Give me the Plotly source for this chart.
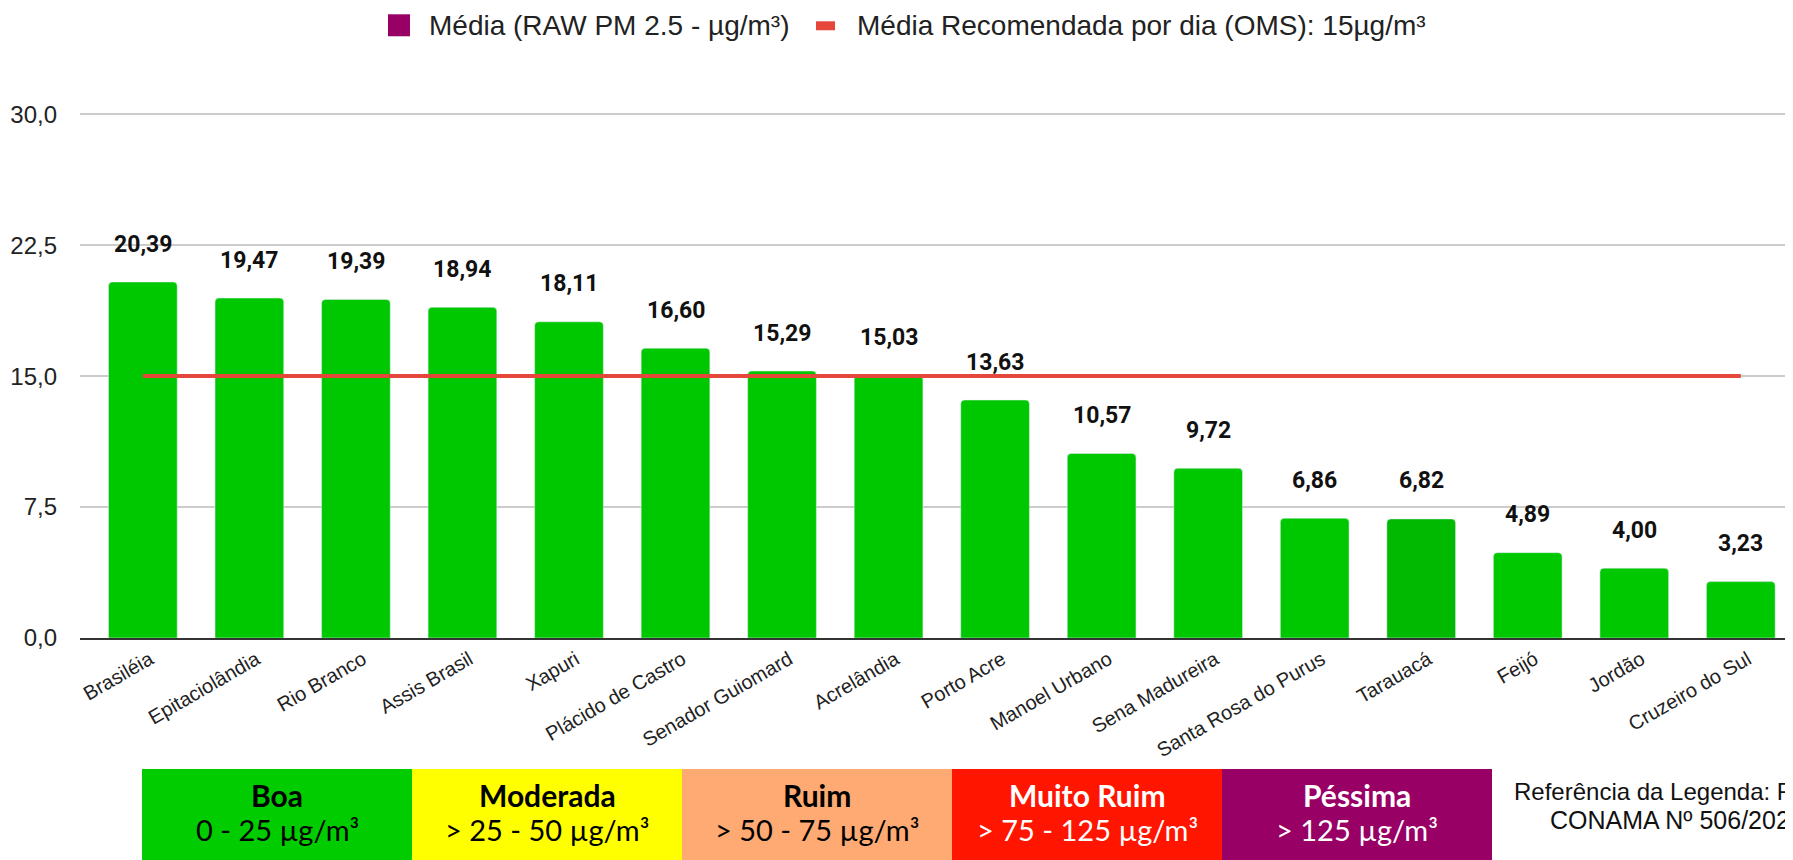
import plotly.graph_objects as go

cities = ["Brasiléia", "Epitaciolândia", "Rio Branco", "Assis Brasil", "Xapuri",
          "Plácido de Castro", "Senador Guiomard", "Acrelândia", "Porto Acre",
          "Manoel Urbano", "Sena Madureira", "Santa Rosa do Purus", "Tarauacá",
          "Feijó", "Jordão", "Cruzeiro do Sul"]
media = [20.39, 19.47, 19.39, 18.94, 18.11, 16.60, 15.29, 15.03, 13.63,
         10.57, 9.72, 6.86, 6.82, 4.89, 4.00, 3.23]
bar_colors = ["#00c800"] * 12 + ["#00b900"] + ["#00c800"] * 3
oms_recomendada = 15
y_ticks = [0, 7.5, 15, 22.5, 30]
legend_names = ["Média (RAW PM 2.5 - µg/m³)", "Média Recomendada por dia (OMS): 15µg/m³"]

cat_names = ["Boa", "Moderada", "Ruim", "Muito Ruim", "Péssima"]
cat_ranges = ["0 - 25 µg/m³", "> 25 - 50 µg/m³", "> 50 - 75 µg/m³",
              "> 75 - 125 µg/m³", "> 125 µg/m³"]
cat_colors = ["#00cc00", "#ffff00", "#ffaa72", "#ff1500", "#990066"]
cat_text_colors = ["#000000", "#000000", "#000000", "#ffffff", "#ffffff"]

# page body has an 8px margin; work in page coordinates and convert
OFF = 8
W, H = 1793 - OFF, 860 - OFF
Y_TOP = 30.3
unit = (638 - 114) / 30.0
PH = Y_TOP * unit
MB = 860 - 638
MT = H - MB - PH
ML, MR = 80 - OFF, 0
PW = W - ML - MR


def px(xp):
    return (xp - OFF - ML) / PW


def py(yp):
    return (H - MB - (yp - OFF)) / PH


X_RANGE = [-0.59, 15.49]
label_shift = 7 / (PW / (X_RANGE[1] - X_RANGE[0]))
idx = list(range(len(cities)))

fig = go.Figure()
fig.add_trace(go.Bar(x=cities, y=media, marker=dict(color=bar_colors),
                     name=legend_names[0], showlegend=False, hoverinfo="x+y"))
fig.add_trace(go.Scatter(x=cities, y=[oms_recomendada] * len(cities), mode="lines",
                         name=legend_names[1], showlegend=False,
                         line=dict(color="#e5473b", width=4)))
# invisible helper trace so the label axis (x2) is rendered
fig.add_trace(go.Scatter(x=idx, y=media, xaxis="x2", mode="markers",
                         marker=dict(opacity=0), showlegend=False, hoverinfo="skip"))

annotations = []
for c, v in zip(cities, media):
    annotations.append(dict(x=c, y=v, xref="x", yref="y", text=f"{v:.2f}".replace(".", ","),
                            showarrow=False, yshift=38, yanchor="middle", xanchor="center",
                            font=dict(family="Roboto", size=23, color="#111111", weight="bold")))

shapes = []
# custom legend (top)
shapes.append(dict(type="rect", xref="paper", yref="paper", x0=px(388), x1=px(410),
                   y0=py(36), y1=py(14), fillcolor="#990066", line=dict(width=0)))
annotations.append(dict(xref="paper", yref="paper", x=px(427), y=py(25), xanchor="left",
                        yanchor="middle", showarrow=False, text=legend_names[0],
                        font=dict(family="Liberation Sans", size=28, color="#222222")))
shapes.append(dict(type="rect", xref="paper", yref="paper", x0=px(816), x1=px(835),
                   y0=py(30), y1=py(21), fillcolor="#e5473b", line=dict(width=0)))
annotations.append(dict(xref="paper", yref="paper", x=px(855), y=py(25), xanchor="left",
                        yanchor="middle", showarrow=False, text=legend_names[1],
                        font=dict(family="Liberation Sans", size=28, color="#222222")))

box_left, box_w, box_top, box_bottom = 142, 270, 769, 870
for i, (n, r, col, tc) in enumerate(zip(cat_names, cat_ranges, cat_colors, cat_text_colors)):
    x0 = box_left + i * box_w
    shapes.append(dict(type="rect", xref="paper", yref="paper", x0=px(x0), x1=px(x0 + box_w),
                       y0=py(box_bottom), y1=py(box_top), fillcolor=col, line=dict(width=0),
                       layer="below"))
    annotations.append(dict(xref="paper", yref="paper", x=px(x0 + box_w / 2), y=py(795),
                            text=f"<b>{n}</b>", showarrow=False, yanchor="middle",
                            xanchor="center",
                            font=dict(family="Lato", size=30, color=tc)))
    annotations.append(dict(xref="paper", yref="paper", x=px(x0 + box_w / 2), y=py(830),
                            text=r, showarrow=False, yanchor="middle", xanchor="center",
                            font=dict(family="Lato", size=29, color=tc)))

annotations.append(dict(xref="paper", yref="paper", x=px(1512), y=py(792), xanchor="left",
                        yanchor="middle", showarrow=False,
                        text="Referência da Legenda: Resolução",
                        font=dict(family="Liberation Sans", size=24, color="#111111")))
annotations.append(dict(xref="paper", yref="paper", x=px(1548), y=py(820), xanchor="left",
                        yanchor="middle", showarrow=False,
                        text="CONAMA Nº 506/2024",
                        font=dict(family="Liberation Sans", size=25, color="#111111")))

fig.update_layout(
    width=W, height=H,
    margin=dict(l=ML, r=MR, t=MT, b=MB, autoexpand=False),
    paper_bgcolor="white", plot_bgcolor="white",
    bargap=0.355,
    barcornerradius=4,
    separators=",.",
    font=dict(family="Liberation Sans", color="#222222"),
    showlegend=False,
    xaxis=dict(range=X_RANGE, showticklabels=False,
               showline=True, linecolor="#333333", linewidth=2, showgrid=False,
               fixedrange=True),
    xaxis2=dict(overlaying="x", side="bottom", anchor="y",
                range=[X_RANGE[0] - label_shift, X_RANGE[1] - label_shift],
                tickmode="array", tickvals=idx, ticktext=cities,
                tickangle=-30, tickfont=dict(size=20, color="#222222"),
                showgrid=False, zeroline=False, showline=False, ticklabelstandoff=5,
                fixedrange=True),
    yaxis=dict(range=[0, Y_TOP], tickvals=y_ticks, tickformat=".1f",
               tickfont=dict(size=24, color="#222222"), gridcolor="#cccccc", gridwidth=1.5,
               zeroline=False, ticklabelstandoff=22, fixedrange=True),
    annotations=annotations,
    shapes=shapes,
)

fig.write_html("out.html")
